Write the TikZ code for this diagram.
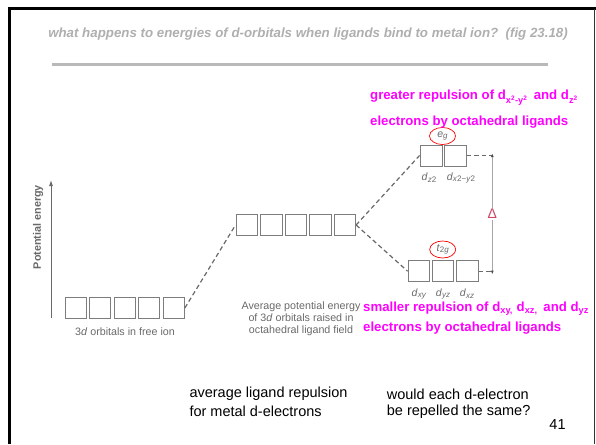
\documentclass[tikz,border=0pt]{standalone}
\usepackage{fontspec}
\setmainfont{Liberation Sans}
\setsansfont{Liberation Sans}
\usetikzlibrary{arrows.meta,shapes.geometric}
\definecolor{mag}{RGB}{255,0,255}
\definecolor{titlegray}{RGB}{175,175,175}
\definecolor{rulegray}{RGB}{185,185,185}
\definecolor{figgray}{RGB}{105,105,105}
\definecolor{boxgray}{RGB}{125,125,125}
\definecolor{deltared}{RGB}{205,70,100}
\newcommand{\fs}[1]{\fontsize{#1}{#1}\selectfont}
\newcommand{\bsub}[1]{\raisebox{-0.3ex}{\fs{8}#1}}
\tikzset{
  orb/.style={draw=boxgray, line width=0.9pt, minimum width=21.5pt, minimum height=21pt, inner sep=0pt},
  dashln/.style={draw=figgray, line width=1.2pt, dash pattern=on 4.5pt off 3pt},
  figlbl/.style={text=figgray, inner sep=0pt, font=\fs{10.7}},
  sublbl/.style={text=figgray, inner sep=0pt, font=\fs{10.5}},
  mlbl/.style={text=mag, inner sep=0pt, anchor=west, font=\fs{13.2}\bfseries},
  blbl/.style={text=black, inner sep=0pt, anchor=west, font=\fs{14.5}},
  oval/.style={draw=red, line width=0.7pt}
}
\begin{document}
\begin{tikzpicture}[x=1pt,y=-1pt]
\useasboundingbox (0,0) rectangle (596,444);
% slide frame
\draw[line width=3pt, black] (9,444) -- (9,9) -- (596,9);
\draw[line width=1.5pt, black!80] (594.5,9) -- (594.5,444);
% title and rule
\node[text=titlegray, font=\fs{13.3}\bfseries\itshape, inner sep=0pt] (title) at (308,34)
  {what happens to energies of d-orbitals when ligands bind to metal ion?\ \ (fig 23.18)};
\draw[rulegray, line width=3pt] (52,64.5) -- (548,64.5);
% axis
\coordinate (axb) at (51,318);
\coordinate (axt) at (51,180);
\draw[figgray, line width=0.9pt, -{Latex[length=6pt,width=4pt]}] (axb) -- (axt);
\node[figlbl, rotate=90, font=\fs{10.8}\bfseries] (pe) at (38,227) {Potential energy};
% free ion orbitals
\foreach \i/\x in {1/75.5,2/100.1,3/124.7,4/149.3,5/173.9}
  \node[orb, minimum width=21pt, minimum height=20.7pt] (f\i) at (\x,308) {};
\node[figlbl] (flbl) at (125,332) {3\textit{d} orbitals in free ion};
% average orbitals
\foreach \i/\x in {1/246.8,2/271.3,3/295.8,4/320.3,5/344.8}
  \node[orb, minimum width=21.7pt, minimum height=21.7pt] (m\i) at (\x,225) {};
\node[figlbl, align=center] (mlbl) at (301,319)
  {Average potential energy\\[1.5pt]of 3\textit{d} orbitals raised in\\[1.5pt]octahedral ligand field};
% eg orbitals
\node[orb, minimum width=22pt] (e1) at (431,155.5) {};
\node[orb, minimum width=22pt] (e2) at (455.5,155.5) {};
\node[sublbl] (e1l) at (429,178) {\textit{d}\bsub{\textit{z}2}};
\node[sublbl] (e2l) at (461,178) {\textit{d}\bsub{\textit{x}2\textminus\textit{y}2}};
\node[sublbl] (eg) at (442.5,136) {\textit{e}\bsub{\textit{g}}};
\draw[oval] (eg) ellipse [x radius=13, y radius=8.5];
% t2g orbitals
\node[orb] (t1) at (418.8,271.2) {};
\node[orb] (t2) at (442.8,271.2) {};
\node[orb] (t3) at (467.5,271.2) {};
\node[sublbl] (t1l) at (419,294) {\textit{d}\bsub{\textit{xy}}};
\node[sublbl] (t2l) at (443,294) {\textit{d}\bsub{\textit{yz}}};
\node[sublbl] (t3l) at (467,294) {\textit{d}\bsub{\textit{xz}}};
\node[sublbl] (t2g) at (442.7,249.5) {\textit{t}\bsub{2\textit{g}}};
\draw[oval] (t2g) ellipse [x radius=13, y radius=8.5];
% dashed connectors
\draw[dashln] (f5.east) -- (m1.west);
\draw[dashln] (m5.east) -- (e1.west);
\draw[dashln] (m5.east) -- (t1.west);
\coordinate (dt) at (492.3,155.5);
\coordinate (db) at (492.3,271.2);
\draw[dashln] (e2.east) -- (dt);
\draw[dashln] (t3.east) -- (db);
\draw[gray!70, line width=1pt, {Latex[length=3.5pt,width=3pt,black!70]}-{Latex[length=3.5pt,width=3pt,black!70]}] ([yshift=2pt]dt) -- ([yshift=-3pt]db);
\node[text=deltared, fill=white, inner sep=1pt, font=\fs{14}] (delta) at (492.3,214) {Δ};
% magenta annotations
\node[mlbl] (g1) at (370,98) {greater repulsion of d\textsubscript{x\textsuperscript{2}-y\textsuperscript{2}}\ \,and d\textsubscript{z\textsuperscript{2}}};
\node[mlbl] (g2) at (370,121.7) {electrons by octahedral ligands};
\node[mlbl] (s1) at (363,308.3) {smaller repulsion of d\textsubscript{xy,} d\textsubscript{xz,}\ \,and d\textsubscript{yz}};
\node[mlbl] (s2) at (363,328.3) {electrons by octahedral ligands};
% bottom text
\node[blbl] (b1) at (189.3,394) {average ligand repulsion};
\node[blbl] (b2) at (189.3,411.7) {for metal d-electrons};
\node[blbl] (b3) at (386.7,394) {would each d-electron};
\node[blbl] (b4) at (386.7,411.7) {be repelled the same?};
\node[text=black, inner sep=0pt, font=\fs{14.5}] (pg) at (557.5,425) {41};
\end{tikzpicture}
\end{document}
